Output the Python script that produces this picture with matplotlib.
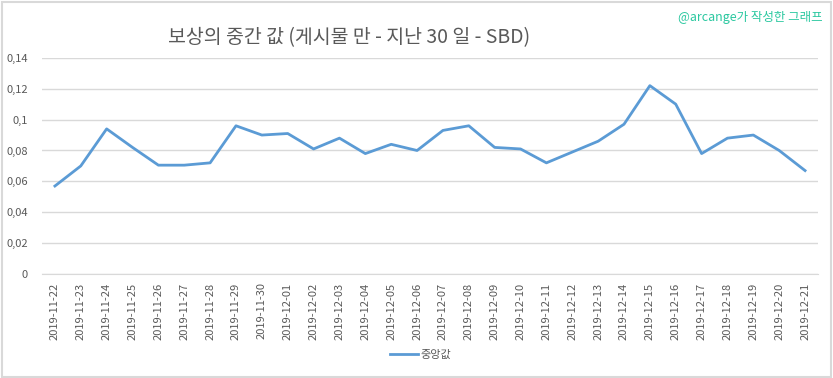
import matplotlib.pyplot as plt
from matplotlib.patches import Rectangle

plt.rcParams['font.family'] = ['Noto Sans CJK KR', 'DejaVu Sans']

# data
dates = ["2019-11-22", "2019-11-23", "2019-11-24", "2019-11-25", "2019-11-26",
         "2019-11-27", "2019-11-28", "2019-11-29", "2019-11-30", "2019-12-01",
         "2019-12-02", "2019-12-03", "2019-12-04", "2019-12-05", "2019-12-06",
         "2019-12-07", "2019-12-08", "2019-12-09", "2019-12-10", "2019-12-11",
         "2019-12-12", "2019-12-13", "2019-12-14", "2019-12-15", "2019-12-16",
         "2019-12-17", "2019-12-18", "2019-12-19", "2019-12-20", "2019-12-21"]
median_reward = [0.057, 0.070, 0.094, 0.082, 0.0705, 0.0705, 0.072, 0.096, 0.090, 0.091,
                 0.081, 0.088, 0.078, 0.084, 0.080, 0.093, 0.096, 0.082, 0.081, 0.072,
                 0.079, 0.086, 0.097, 0.122, 0.110, 0.078, 0.088, 0.090, 0.080, 0.067]
y_ticks = [0, 0.02, 0.04, 0.06, 0.08, 0.1, 0.12, 0.14]

fig = plt.figure(figsize=(8.33, 3.78), dpi=100)
ax = fig.add_axes([0.0504, 0.275, 0.9316, 0.572])

x = list(range(len(dates)))
ax.plot(x, median_reward, color="#5B9BD5", linewidth=2, label="중앙값")

ax.set_xlim(-0.5, len(dates) - 0.5)
ax.set_ylim(0, 0.14)
ax.set_yticks(y_ticks)
ax.set_yticklabels([("%g" % v).replace(".", ",") for v in y_ticks])
ax.set_xticks(x)
ax.set_xticklabels(dates, rotation=90)
ax.tick_params(axis="both", length=0, colors="#595959", labelsize=8)
ax.tick_params(axis="y", pad=10)
ax.tick_params(axis="x", pad=6)
ax.grid(axis="y", color="#D9D9D9", linewidth=1)
ax.set_axisbelow(True)
for s in ["top", "right", "left"]:
    ax.spines[s].set_visible(False)
ax.spines["bottom"].set_color("#D9D9D9")

fig.text(0.419, 0.9, "보상의 중간 값 (게시물 만 - 지난 30 일 - SBD)", ha="center", va="center",
         fontsize=14, color="#595959")
fig.text(0.987, 0.955, "@arcange가 작성한 그래프", ha="right", va="center",
         fontsize=9, color="#2BC8A0")

fig.legend(loc="center", bbox_to_anchor=(0.505, 0.062), frameon=False, fontsize=8,
           labelcolor="#595959", handlelength=2.5, handletextpad=0.3)

fig.patches.append(Rectangle((0.002, 0.003), 0.995, 0.993, transform=fig.transFigure,
                             fill=False, edgecolor="#D9D9D9", linewidth=1.5))

fig.savefig("out.png", dpi=100)
